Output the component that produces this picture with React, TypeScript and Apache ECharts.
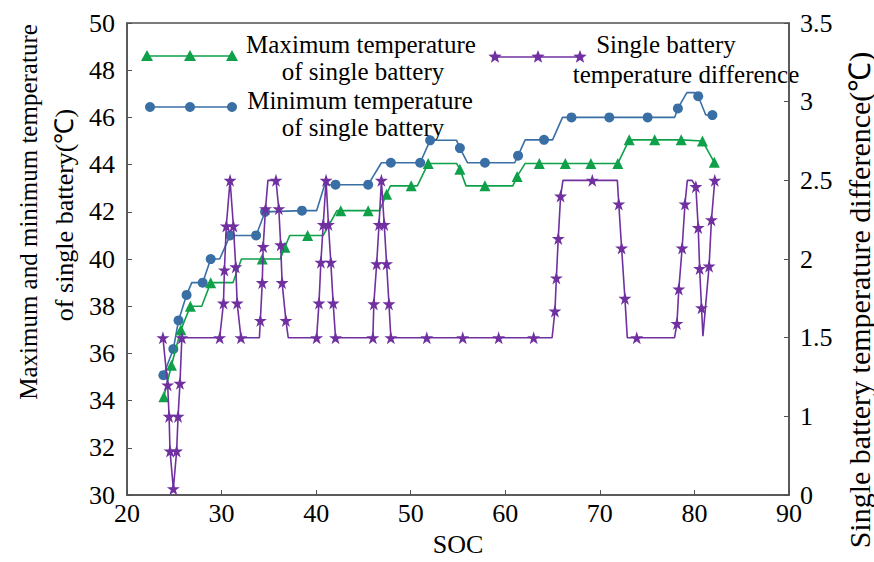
import React, { useEffect, useRef } from "react";
import * as echarts from "echarts";

// ---- data ----
const socTicks = [20, 30, 40, 50, 60, 70, 80, 90];

// Maximum temperature of single battery (°C); mark 1 = marker drawn, 0 = line corner only
const maxSoc = [23.9, 24.7, 25.7, 26.7, 27.9, 28.85, 31.2, 32.1, 34.3, 36.2, 36.7, 37.2, 39.1, 40.75, 42.2, 42.6, 45.5, 46.7, 47.45, 47.85, 50.05, 50.7, 51.85, 54.85, 55.2, 55.85, 57.85, 60.8, 61.25, 62.1, 63.6, 66.35, 69.05, 71.9, 73.1, 75.8, 78.6, 80.85, 82.1];
const maxTemp = [34.17, 35.5, 37.0, 38.0, 38.0, 39.0, 39.0, 40.0, 40.0, 40.0, 40.5, 41.0, 41.0, 41.0, 42.05, 42.05, 42.05, 42.05, 42.75, 43.1, 43.1, 43.1, 44.05, 44.05, 43.8, 43.1, 43.1, 43.1, 43.5, 44.05, 44.05, 44.05, 44.05, 44.05, 45.05, 45.05, 45.05, 45.0, 44.1];
const maxMark = [1, 1, 1, 1, 0, 1, 0, 0, 1, 0, 1, 0, 1, 0, 0, 1, 1, 0, 1, 0, 1, 0, 1, 0, 1, 0, 1, 0, 1, 0, 1, 1, 1, 1, 1, 1, 1, 1, 1];

// Minimum temperature of single battery (°C)
const minSoc = [23.85, 24.9, 25.45, 26.3, 26.85, 28.0, 28.85, 29.8, 30.9, 33.65, 34.6, 38.5, 40.05, 40.9, 42.05, 45.5, 46.9, 47.9, 51.0, 52.05, 54.85, 55.2, 56.0, 57.85, 61.0, 61.35, 62.1, 64.1, 65.0, 66.05, 67.0, 71.0, 75.05, 77.9, 78.25, 79.2, 80.0, 80.4, 81.2, 81.9];
const minTemp = [35.08, 36.19, 37.4, 38.48, 39.0, 39.0, 40.0, 40.0, 41.0, 41.0, 42.0, 42.05, 42.05, 43.15, 43.15, 43.15, 44.08, 44.08, 44.08, 45.03, 45.03, 44.7, 44.08, 44.08, 44.08, 44.38, 45.05, 45.05, 45.05, 46.0, 46.0, 46.0, 46.0, 46.0, 46.38, 47.05, 47.05, 46.9, 46.1, 46.1];
const minMark = [1, 1, 1, 1, 0, 1, 1, 0, 1, 1, 1, 1, 0, 0, 1, 1, 0, 1, 1, 1, 0, 1, 0, 1, 0, 1, 0, 1, 0, 0, 1, 1, 1, 0, 1, 0, 0, 1, 0, 1];

// Single battery temperature difference (°C), right-axis coordinate (bottom of axis labelled 0)
const diffSoc = [23.8, 24.3, 24.45, 24.55, 24.9, 25.25, 25.4, 25.6, 25.8, 29.8, 30.2, 30.3, 30.5, 30.9, 31.25, 31.5, 31.65, 32.05, 34.0, 34.1, 34.3, 34.4, 34.65, 34.9, 35.75, 36.05, 36.25, 36.4, 36.8, 37.05, 40.05, 40.3, 40.5, 40.75, 41.05, 41.3, 41.55, 41.8, 42.05, 46.0, 46.1, 46.4, 46.65, 46.9, 47.2, 47.45, 47.7, 47.9, 51.7, 55.5, 59.3, 63.0, 64.95, 65.25, 65.4, 65.6, 65.85, 66.1, 69.2, 71.85, 72.0, 72.3, 72.65, 72.9, 73.9, 77.9, 78.15, 78.35, 78.7, 79.0, 79.25, 79.75, 80.15, 80.4, 80.55, 80.75, 80.9, 81.55, 81.8, 82.15];
const diffVal = [1.5, 1.2, 1.0, 0.78, 0.54, 0.78, 1.0, 1.21, 1.5, 1.5, 1.72, 1.93, 2.21, 2.5, 2.21, 1.95, 1.72, 1.5, 1.5, 1.61, 1.85, 2.08, 2.32, 2.5, 2.5, 2.32, 2.09, 1.85, 1.61, 1.5, 1.5, 1.72, 1.98, 2.22, 2.5, 2.22, 1.98, 1.72, 1.5, 1.5, 1.715, 1.97, 2.22, 2.5, 2.22, 1.97, 1.715, 1.5, 1.5, 1.5, 1.5, 1.5, 1.5, 1.67, 1.88, 2.13, 2.4, 2.5, 2.5, 2.5, 2.35, 2.07, 1.75, 1.5, 1.5, 1.5, 1.59, 1.81, 2.07, 2.35, 2.5, 2.5, 2.46, 2.2, 1.94, 1.69, 1.51, 1.955, 2.25, 2.5];
const diffMark = [1, 1, 1, 1, 1, 1, 1, 1, 1, 1, 1, 1, 1, 1, 1, 1, 1, 1, 0, 1, 1, 1, 1, 0, 1, 1, 1, 1, 1, 0, 1, 1, 1, 1, 1, 1, 1, 1, 1, 1, 1, 1, 1, 1, 1, 1, 1, 1, 1, 1, 1, 1, 0, 1, 1, 1, 1, 0, 1, 0, 1, 1, 1, 0, 1, 0, 1, 1, 1, 1, 0, 0, 1, 1, 1, 1, 0, 1, 1, 1];

const leftTicks = { min: 30, max: 50, interval: 2 };
const rightTicks = { min: 0.5, max: 3.5, interval: 0.5 };

const GREEN = "#0fa14a";
const BLUE = "#3a6fa6";
const PURPLE = "#7030a0";
const FRAME = "#505050";
const FONT = "Liberation Serif, Times New Roman, serif";

const STAR = "path://M50,0 L61.2,34.5 L97.6,34.5 L68.2,55.9 L79.4,90.5 L50,69.1 L20.6,90.5 L31.8,55.9 L2.4,34.5 L38.8,34.5 Z";

function build(soc: number[], val: number[], mark: number[], symbol: string, size: number) {
  return soc.map((s, i) => ({ value: [s, val[i]], symbol: mark[i] ? symbol : "none", symbolSize: size }));
}

function starPoints(cx: number, cy: number, r: number) {
  const pts: number[][] = [];
  for (let k = 0; k < 10; k++) {
    const rr = k % 2 === 0 ? r : r * 0.42;
    const a = -Math.PI / 2 + (k * Math.PI) / 5;
    pts.push([cx + rr * Math.cos(a), cy + rr * Math.sin(a)]);
  }
  return pts;
}

function legendGraphics() {
  const g: any[] = [];
  const txt = (text: string, x: number, y: number) => ({
    type: "text",
    x,
    y,
    style: { text, fill: "#000", fontSize: 25, fontFamily: FONT, textAlign: "center", textVerticalAlign: "middle" },
  });
  // max
  g.push({ type: "line", shape: { x1: 147, y1: 56, x2: 232, y2: 56 }, style: { stroke: GREEN, lineWidth: 1.6 } });
  [147, 190, 232].forEach((x) =>
    g.push({ type: "polygon", shape: { points: [[x, 50], [x - 6, 61], [x + 6, 61]] }, style: { fill: GREEN } })
  );
  g.push(txt("Maximum temperature", 361, 44));
  g.push(txt("of single battery", 363, 71));
  // min
  g.push({ type: "line", shape: { x1: 150, y1: 107, x2: 232, y2: 107 }, style: { stroke: BLUE, lineWidth: 1.6 } });
  [150, 190, 232].forEach((x) =>
    g.push({ type: "circle", shape: { cx: x, cy: 107, r: 5 }, style: { fill: BLUE } })
  );
  g.push(txt("Minimum temperature", 360, 100));
  g.push(txt("of single battery", 363, 127));
  // diff
  g.push({ type: "line", shape: { x1: 495, y1: 57, x2: 580, y2: 57 }, style: { stroke: PURPLE, lineWidth: 1.6 } });
  [495, 538, 580].forEach((x) =>
    g.push({ type: "polygon", shape: { points: starPoints(x, 57, 7) }, style: { fill: PURPLE } })
  );
  g.push(txt("Single battery", 666, 44));
  g.push(txt("temperature difference", 686, 74));
  return g;
}

export default function App() {
  const ref = useRef<HTMLDivElement>(null);
  useEffect(() => {
    if (!ref.current) return;
    const chart = echarts.init(ref.current, null, { renderer: "svg" });
    const axisLabel = { color: "#000", fontSize: 26, fontFamily: FONT };
    chart.setOption({
      animation: false,
      backgroundColor: "#fff",
      grid: { left: 127, right: 85, top: 23, bottom: 55, show: true, borderColor: FRAME, borderWidth: 1.5 },
      xAxis: {
        type: "value",
        min: socTicks[0],
        max: socTicks[socTicks.length - 1],
        interval: 10,
        axisLine: { show: true, lineStyle: { color: FRAME, width: 1.5 } },
        axisTick: { show: true, inside: true, length: 5, lineStyle: { color: FRAME } },
        axisLabel: { ...axisLabel, margin: 5 },
        splitLine: { show: false },
        name: "SOC",
        nameLocation: "middle",
        nameGap: 29,
        nameTextStyle: { color: "#000", fontSize: 26, fontFamily: FONT },
      },
      yAxis: [
        {
          type: "value",
          ...leftTicks,
          position: "left",
          axisLine: { show: true, lineStyle: { color: FRAME, width: 1.5 } },
          axisTick: { show: true, inside: true, length: 5, lineStyle: { color: FRAME } },
          axisLabel: { ...axisLabel, margin: 12 },
          splitLine: { show: false },
        },
        {
          type: "value",
          ...rightTicks,
          position: "right",
          axisLine: { show: true, lineStyle: { color: FRAME, width: 1.5 } },
          axisTick: { show: true, inside: true, length: 5, lineStyle: { color: FRAME } },
          axisLabel: {
            ...axisLabel,
            margin: 11,
            formatter: (v: number) => (v === rightTicks.min ? "0" : String(v)),
          },
          splitLine: { show: false },
        },
      ],
      graphic: [
        ...legendGraphics(),
        {
          type: "text",
          x: 28,
          y: 212,
          rotation: Math.PI / 2,
          style: { text: "Maximum and minimum temperature", fill: "#000", fontSize: 25, fontFamily: FONT, textAlign: "center", textVerticalAlign: "middle" },
        },
        {
          type: "text",
          x: 64,
          y: 215,
          rotation: Math.PI / 2,
          style: { text: "of single battery(℃)", fill: "#000", fontSize: 26, fontFamily: FONT, textAlign: "center", textVerticalAlign: "middle" },
        },
        {
          type: "text",
          x: 859,
          y: 300,
          rotation: Math.PI / 2,
          style: { text: "Single battery temperature difference(℃)", fill: "#000", fontSize: 30, fontFamily: FONT, textAlign: "center", textVerticalAlign: "middle" },
        },
      ],
      series: [
        {
          type: "line",
          name: "Maximum temperature of single battery",
          yAxisIndex: 0,
          data: build(maxSoc, maxTemp, maxMark, "triangle", 11),
          showAllSymbol: true,
          lineStyle: { color: GREEN, width: 1.6 },
          itemStyle: { color: GREEN },
          z: 3,
        },
        {
          type: "line",
          name: "Minimum temperature of single battery",
          yAxisIndex: 0,
          data: build(minSoc, minTemp, minMark, "circle", 10),
          showAllSymbol: true,
          lineStyle: { color: BLUE, width: 1.6 },
          itemStyle: { color: BLUE },
          z: 2,
        },
        {
          type: "line",
          name: "Single battery temperature difference",
          yAxisIndex: 1,
          data: build(diffSoc, diffVal, diffMark, STAR, 13),
          showAllSymbol: true,
          lineStyle: { color: PURPLE, width: 1.6 },
          itemStyle: { color: PURPLE },
          z: 4,
        },
      ],
    });
    return () => chart.dispose();
  }, []);
  return <div ref={ref} style={{ position: "absolute", left: 0, top: 0, width: 874, height: 562 }} />;
}
